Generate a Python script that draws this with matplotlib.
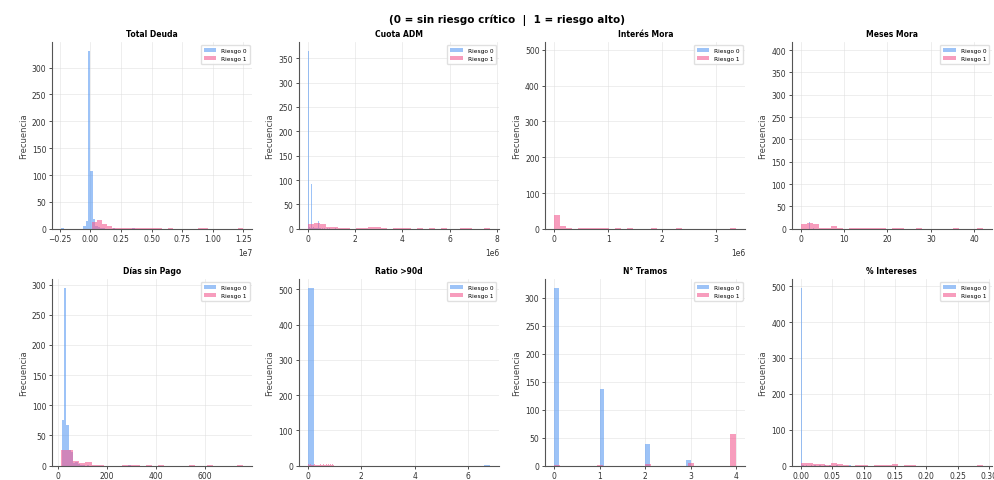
import numpy as np
import matplotlib
matplotlib.use("Agg")
import matplotlib.pyplot as plt
from matplotlib.ticker import MultipleLocator

# Histogram counts (30 bins per series, own range)
titulos = ["Total Deuda", "Cuota ADM", "Interés Mora", "Meses Mora",
           "Días sin Pago", "Ratio >90d", "N° Tramos", "% Intereses"]

# (min, max) of each series -> bin range
rango_r0 = [(-2.4e6, 3.6e6), (0, 1.2e6), (-0.5, 0.5), (0, 3),
            (15, 297), (0, 6.8), (0, 3), (0, 0.08)]
rango_r1 = [(0.1e6, 12.5e6), (0, 7.7e6), (0, 3.38e6), (0, 42),
            (13, 758), (0, 1), (0, 4), (0, 0.29)]

deuda_r0 = [1, 0, 0, 0, 0, 0, 0, 0, 0, 5, 14, 331, 108, 18, 6,
            3, 2, 1, 0, 0, 0, 1, 0, 0, 0, 0, 0, 0, 0, 1]
deuda_r1 = [12, 17, 9, 6, 2, 1, 1, 1, 1, 2, 2, 2, 1, 1, 0,
            1, 0, 0, 0, 0, 0, 1, 1, 0, 0, 0, 0, 0, 0, 1]

cuota_r0 = [365, 3, 2, 4, 92, 2, 3, 1, 2, 1, 2, 17, 1, 1, 0,
            1, 0, 1, 0, 0, 1, 0, 0, 1, 0, 0, 0, 0, 0, 1]
cuota_r1 = [10, 12, 10, 3, 4, 2, 1, 0, 2, 1, 3, 3, 1, 0, 1,
            1, 1, 0, 1, 0, 1, 0, 1, 0, 0, 1, 1, 0, 0, 1]

interes_r0 = [0] * 15 + [497] + [0] * 14
interes_r1 = [38, 7, 1, 0, 2, 2, 3, 2, 1, 0, 1, 0, 1, 0, 0,
              0, 1, 0, 0, 0, 1, 0, 0, 0, 0, 0, 0, 0, 0, 1]

meses_r0 = [398, 0, 0, 0, 0, 0, 0, 0, 0, 0, 90, 0, 0, 0, 0,
            0, 0, 0, 0, 0, 15, 0, 0, 0, 0, 0, 0, 0, 0, 2]
meses_r1 = [10, 12, 10, 2, 1, 6, 1, 0, 1, 1, 1, 1, 1, 1, 0,
            1, 2, 0, 0, 2, 0, 0, 0, 0, 0, 2, 0, 0, 0, 1]

dias_r0 = [75, 295, 68, 25, 22, 5, 6, 2, 1, 1, 0, 1, 0, 0, 0,
           0, 0, 0, 0, 0, 0, 0, 0, 0, 0, 0, 0, 0, 0, 1]
dias_r1 = [25, 25, 8, 4, 6, 1, 1, 0, 0, 0, 1, 1, 1, 0, 1,
           0, 1, 0, 0, 0, 0, 1, 0, 0, 1, 0, 0, 0, 0, 1]

ratio_r0 = [505] + [0] * 28 + [1]
ratio_r1 = [4, 2, 1, 3, 2, 2, 1, 3, 2, 2, 3, 2, 1, 2, 3,
            2, 2, 3, 2, 1, 2, 3, 2, 4, 2, 3, 2, 3, 2, 3]

tramos_r0 = [318] + [0] * 9 + [137] + [0] * 9 + [39] + [0] * 8 + [10]
tramos_r1 = [1] + [0] * 6 + [1] + [0] * 7 + [3] + [0] * 6 + [5] + [0] * 6 + [57]

interes_pct_r0 = [496, 1, 0, 1, 0, 0, 1, 0, 1, 0, 0, 1, 0, 0, 1,
                  0, 0, 1, 0, 0, 0, 1, 0, 0, 0, 0, 0, 0, 0, 1]
interes_pct_r1 = [8, 7, 5, 5, 2, 8, 4, 1, 0, 2, 1, 0, 1, 2, 2,
                  5, 0, 1, 2, 0, 0, 0, 0, 0, 0, 0, 0, 0, 0, 1]

conteos_r0 = [deuda_r0, cuota_r0, interes_r0, meses_r0,
              dias_r0, ratio_r0, tramos_r0, interes_pct_r0]
conteos_r1 = [deuda_r1, cuota_r1, interes_r1, meses_r1,
              dias_r1, ratio_r1, tramos_r1, interes_pct_r1]

color_r0 = "#5C9CF2"
color_r1 = "#F25C92"

fig, axes = plt.subplots(2, 4, figsize=(9.95, 4.81), dpi=100)
fig.subplots_adjust(left=0.0523, right=0.997, top=0.9106, bottom=0.0301,
                    wspace=0.23, hspace=0.267)

for ax, titulo, r0, r1, c0, c1 in zip(axes.flat, titulos, rango_r0, rango_r1,
                                      conteos_r0, conteos_r1):
    bins0 = np.linspace(r0[0], r0[1], len(c0) + 1)
    bins1 = np.linspace(r1[0], r1[1], len(c1) + 1)
    ax.hist(bins0[:-1], bins=bins0, weights=c0, color=color_r0, alpha=0.6,
            label="Riesgo 0")
    ax.hist(bins1[:-1], bins=bins1, weights=c1, color=color_r1, alpha=0.6,
            label="Riesgo 1")
    ax.set_title(titulo, fontsize=5.5, fontweight="bold", pad=4)
    ax.set_ylabel("Frecuencia", fontsize=6, color="#444444", labelpad=3)
    ax.tick_params(labelsize=5.5, length=2.5, width=0.6, pad=1.5,
                   colors="#333333")
    ax.xaxis.get_offset_text().set_fontsize(5.5)
    ax.grid(True, color="#dddddd", linewidth=0.5, alpha=0.7)
    ax.set_axisbelow(True)
    for s in ["top", "right"]:
        ax.spines[s].set_visible(False)
    for s in ["left", "bottom"]:
        ax.spines[s].set_color("#555555")
        ax.spines[s].set_linewidth(0.8)
    ax.legend(fontsize=4.2, loc="upper right", handlelength=2.2,
              framealpha=0.9, edgecolor="#dddddd", borderpad=0.5)

# coarser x ticks, as in the original
axes[0, 2].xaxis.set_major_locator(MultipleLocator(1e6))
axes[1, 1].xaxis.set_major_locator(MultipleLocator(2))

fig.suptitle("(0 = sin riesgo crítico  |  1 = riesgo alto)", x=0.51, y=0.97,
             fontsize=7.5, fontweight="bold")

fig.savefig("out.png", dpi=100)
